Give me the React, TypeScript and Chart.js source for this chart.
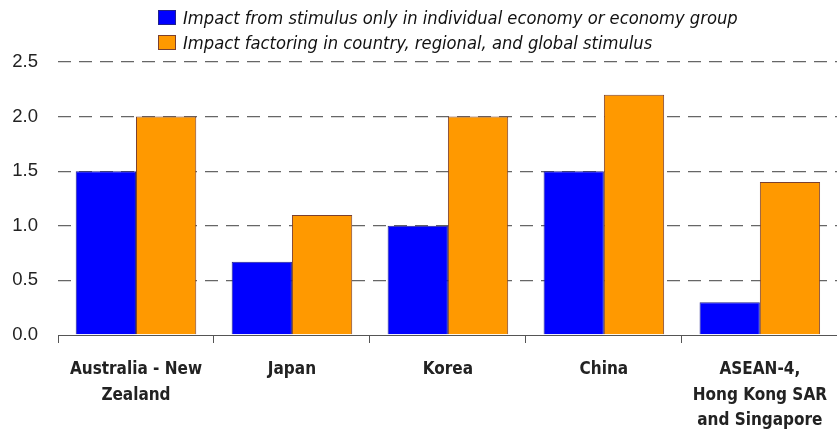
import React, { useEffect, useRef } from "react";
import { Chart, registerables } from "chart.js";

Chart.register(...registerables);

const categories: string[][] = [
  ["Australia - New", "Zealand"],
  ["Japan"],
  ["Korea"],
  ["China"],
  ["ASEAN-4,", "Hong Kong SAR", "and Singapore"],
];
const seriesNames = [
  "Impact from stimulus only in individual economy or economy group",
  "Impact factoring in country, regional, and global stimulus",
];
const ownStimulus = [1.5, 0.67, 1.0, 1.5, 0.3];
const totalStimulus = [2.0, 1.1, 2.0, 2.2, 1.4];
const seriesColors = ["#0000FF", "#FF9900"];
const seriesBorders = ["#22228a", "#7a4030"];
const yMin = 0;
const yMax = 2.5;
const yStep = 0.5;

const NARROW = '"Liberation Sans Narrow", "Arial Narrow", "DejaVu Sans Condensed", sans-serif';

export default function App() {
  const ref = useRef<HTMLCanvasElement | null>(null);

  useEffect(() => {
    document.body.style.margin = "0";
    document.body.style.overflow = "hidden";
    const ctx = ref.current!;
    const chart = new Chart(ctx, {
      type: "bar",
      data: {
        labels: categories,
        datasets: [
          {
            label: seriesNames[0],
            data: ownStimulus,
            backgroundColor: seriesColors[0],
            borderColor: seriesBorders[0],
            borderWidth: 1,
          },
          {
            label: seriesNames[1],
            data: totalStimulus,
            backgroundColor: seriesColors[1],
            borderColor: seriesBorders[1],
            borderWidth: 1,
          },
        ],
      },
      options: {
        animation: false,
        responsive: false,
        maintainAspectRatio: false,
        layout: { padding: { top: 62, left: 0, right: 0, bottom: 0 } },
        datasets: { bar: { categoryPercentage: 0.773, barPercentage: 1 } },
        plugins: {
          legend: { display: false },
          tooltip: { enabled: false },
        },
        scales: {
          x: {
            offset: true,
            grid: {
              display: true,
              offset: true,
              drawOnChartArea: false,
              drawTicks: true,
              tickLength: 8,
              color: "#555",
              lineWidth: 1,
            },
            border: { display: true, color: "#555", width: 1 },
            ticks: {
              color: "#222",
              padding: 14,
              maxRotation: 0,
              autoSkip: false,
              font: { family: NARROW, size: 17, weight: "bold" as any, lineHeight: 1.5 },
            },
            afterFit: (scale: any) => {
              scale.height = 94;
            },
          },
          y: {
            min: yMin,
            max: yMax,
            grid: {
              color: (c: any) => (c.tick && c.tick.value === 0 ? "rgba(0,0,0,0)" : "#666"),
              lineWidth: 1.3,
              drawTicks: false,
            },
            border: { display: false, dash: [13, 8] },
            ticks: {
              stepSize: yStep,
              padding: 20,
              color: "#222",
              font: { family: "Arial, 'Liberation Sans', sans-serif", size: 18.5 },
              callback: (v: any) => Number(v).toFixed(1),
            },
            afterFit: (scale: any) => {
              scale.width = 58;
            },
          },
        },
      },
    });
    return () => chart.destroy();
  }, []);

  return (
    <div style={{ position: "relative", width: 837, height: 429, overflow: "hidden", background: "#fff" }}>
      <canvas ref={ref} width={841} height={429} style={{ position: "absolute", left: 0, top: 0 }} />
      <div
        style={{
          position: "absolute",
          left: 158,
          top: 5,
          fontFamily: NARROW,
          fontStyle: "italic",
          fontSize: 18.2,
          color: "#111",
          lineHeight: "25px",
        }}
      >
        {seriesNames.map((n, i) => (
          <div key={i} style={{ display: "flex", alignItems: "center", whiteSpace: "nowrap" }}>
            <span
              style={{
                display: "inline-block",
                width: 16,
                height: 13,
                background: seriesColors[i],
                border: "1px solid " + seriesBorders[i],
                marginRight: 7,
              }}
            />
            <span>{n}</span>
          </div>
        ))}
      </div>
    </div>
  );
}
